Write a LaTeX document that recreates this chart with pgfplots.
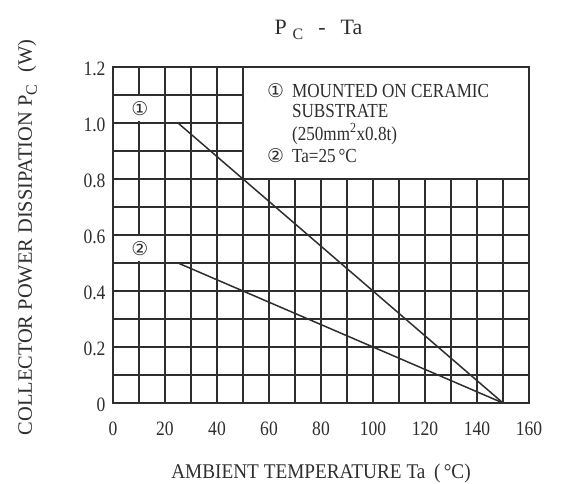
\documentclass[border=0pt]{standalone}
\usepackage{graphicx}
\usepackage{pgfplots}
\pgfplotsset{compat=1.18}
\usepackage{fontspec}
\setmainfont{Liberation Serif}
\newfontfamily\symf{DejaVu Sans}
\newcommand\sx[1]{\scalebox{0.86}[1]{#1}}
\definecolor{ink}{HTML}{2E2E2E}
\begin{document}
\begin{tikzpicture}
\useasboundingbox (-113bp,-81bp) rectangle (449bp,403bp);
\begin{axis}[
  at={(0,0)}, anchor=south west,
  scale only axis, width=416bp, height=336bp,
  xmin=0, xmax=160, ymin=0, ymax=1.2,
  xtick={0,10,20,30,40,50,60,70,80,90,100,110,120,130,140,150,160},
  xticklabels={\sx{0},,\sx{20},,\sx{40},,\sx{60},,\sx{80},,\sx{100},,\sx{120},,\sx{140},,\sx{160}},
  ytick={0,0.1,0.2,0.3,0.4,0.5,0.6,0.7,0.8,0.9,1.0,1.1,1.2},
  yticklabels={\sx{0},,\sx{0.2},,\sx{0.4},,\sx{0.6},,\sx{0.8},,\sx{1.0},,\sx{1.2}},
  major tick length=0pt,
  grid=major,
  grid style={line width=1.8bp, ink},
  axis line style={line width=1.8bp, ink},
  tick label style={font=\fontsize{20.5}{24}\selectfont, text=ink},
  xticklabel style={anchor=base, yshift=-32bp},
  yticklabel style={anchor=east, xshift=-4bp, yshift=-2bp},
  clip=false,
]
\addplot[line width=1.5bp, ink] coordinates {(0,1.0) (25,1.0) (150,0)};
\addplot[line width=1.5bp, ink] coordinates {(0,0.5) (25,0.5) (150,0)};
\fill[white] (axis cs:50,0.8) rectangle (axis cs:160,1.2);
\draw[line width=1.8bp, ink] (axis cs:50,0.8) rectangle (axis cs:160,1.2);
\draw[line width=1.8bp, ink] (axis cs:0,0) rectangle (axis cs:160,1.2);
% circled markers on the curves
\node[fill=white, inner sep=0pt, minimum width=19bp, minimum height=25bp, text=ink,
      font=\symf\fontsize{19}{22}\selectfont] at (axis cs:10.3,1.053) {①};
\node[fill=white, inner sep=0pt, minimum width=19bp, minimum height=25bp, text=ink,
      font=\symf\fontsize{19}{22}\selectfont] at (axis cs:10.3,0.55) {②};
% legend notes
\node[inner sep=0pt, anchor=north west, text=ink, font=\fontsize{20}{20.5}\selectfont] at (axis cs:59.2,1.144)
  {\begin{tabular}{@{}l@{\hspace{8bp}}l@{}}
   {\symf\fontsize{19}{20.5}\selectfont ①} & \sx{MOUNTED ON CERAMIC}\\
   & \sx{SUBSTRATE}\\
   & \sx{(250mm\textsuperscript{2}x0.8t)}\\[2bp]
   {\symf\fontsize{19}{20.5}\selectfont ②} & \sx{Ta=25\,°C}
   \end{tabular}};
% title
\node[inner sep=0pt, anchor=base, text=ink, font=\fontsize{22}{26}\selectfont] at ([yshift=32bp]axis cs:79,1.2)
  {P\hspace{6bp}\raisebox{-5bp}{\fontsize{16}{19}\selectfont C}\hspace{15bp}-\hspace{15bp}Ta};
% x label
\node[inner sep=0pt, anchor=base, text=ink, font=\fontsize{21}{25}\selectfont] at ([yshift=-75bp]axis cs:80,0)
  {\scalebox{0.92}[1]{AMBIENT TEMPERATURE Ta\hspace{0.45em}(\,°C)}};
% y label
\node[inner sep=0pt, anchor=base, rotate=90, text=ink, font=\fontsize{20.5}{24}\selectfont] at ([xshift=-81bp,yshift=-2.5bp]axis cs:0,0.6)
  {COLLECTOR POWER DISSIPATION P\raisebox{-5bp}{\fontsize{16}{19}\selectfont C}\hspace{0.6em}(W)};
\end{axis}
\end{tikzpicture}
\end{document}
